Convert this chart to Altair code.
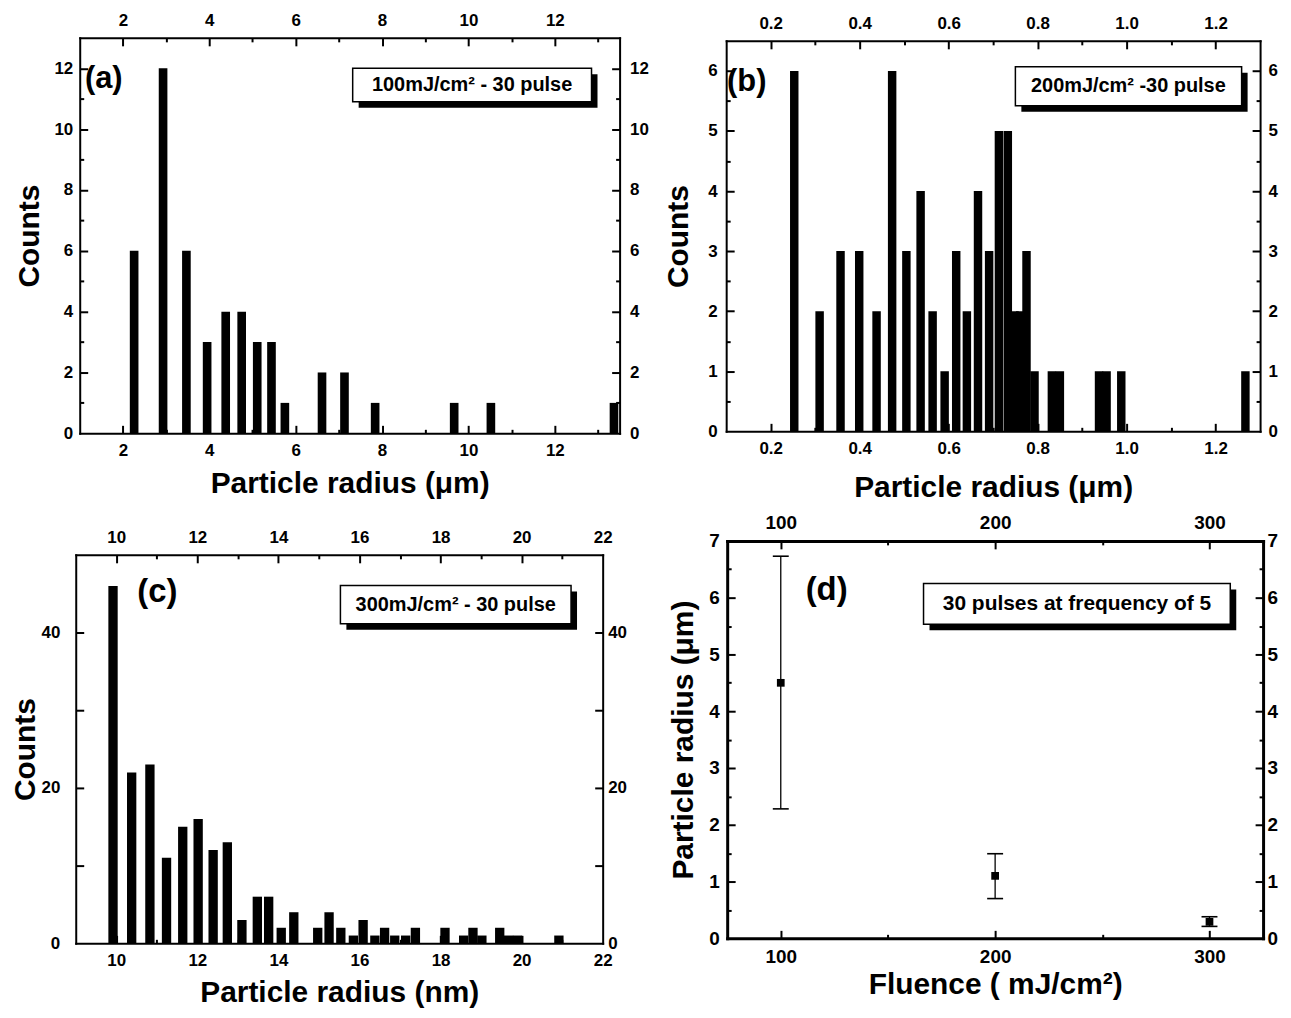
import altair as alt
import pandas as pd

FONT = "Liberation Sans"

# ---------------- data ----------------
# (a) 100 mJ/cm2 histogram (particle radius in um)
A_RADIUS = [2.26, 2.93, 3.47, 3.95, 4.38, 4.75, 5.11, 5.44, 5.75, 6.61, 7.13, 7.84, 9.67, 10.52, 13.37]
A_COUNTS = [6, 12, 6, 3, 4, 4, 3, 3, 1, 2, 2, 1, 1, 1, 1]

# (b) 200 mJ/cm2 histogram (particle radius in um)
B_RADIUS = [0.253, 0.310, 0.357, 0.399, 0.438, 0.473, 0.505, 0.537, 0.564, 0.591,
            0.617, 0.641, 0.666, 0.691, 0.713, 0.733, 0.748, 0.761, 0.775, 0.793,
            0.832, 0.850, 0.938, 0.955, 0.988, 1.267]
B_COUNTS = [6, 2, 3, 3, 2, 6, 3, 4, 2, 1, 3, 2, 4, 3, 5, 5, 2, 2, 3, 1, 1, 1, 1, 1, 1, 1]

# (c) 300 mJ/cm2 histogram (particle radius in nm)
C_RADIUS = [9.92, 10.38, 10.83, 11.24, 11.64, 12.02, 12.39, 12.74, 13.10, 13.48, 13.76,
            14.07, 14.38, 14.97, 15.25, 15.54, 15.85, 16.09, 16.38, 16.62, 16.87, 17.14,
            17.38, 18.11, 18.57, 18.80, 19.02, 19.46, 19.68, 19.90, 20.92]
C_COUNTS = [46, 22, 23, 11, 15, 16, 12, 13, 3, 6, 6, 2, 4, 2, 4, 2, 1, 3, 1, 2, 1, 1,
            2, 2, 1, 2, 1, 2, 1, 1, 1]

# (d) mean radius vs fluence
D_FLUENCE = [100, 200, 300]
D_RADIUS = [4.5, 1.1, 0.29]
D_LOW = [2.28, 0.70, 0.21]
D_HIGH = [6.73, 1.49, 0.38]

# annotation texts
A_NOTE = "100mJ/cm² - 30 pulse"
B_NOTE = "200mJ/cm² -30 pulse"
C_NOTE = "300mJ/cm² - 30 pulse"
D_NOTE = "30 pulses at frequency of 5"

# ---------------- layout (page pixels) ----------------
COLS = [(76, 622), (729, 1268)]
ROWS = [(38, 435), (543, 947)]
FRAMES = {"a": (80, 622, 38, 435), "b": (729, 1265, 41, 433),
          "c": (76, 605, 557, 947), "d": (730, 1268, 543, 942)}


def hist_df(xs, ns, w):
    return pd.DataFrame({"x0": [x - w / 2 for x in xs], "x1": [x + w / 2 for x in xs],
                         "n": ns, "z": [0] * len(xs)})


def note_df(box, text_xy, note, label_xy, label):
    return pd.DataFrame({"bx0": [box[0]], "bx1": [box[1]], "by0": [box[2]], "by1": [box[3]],
                         "tx": [text_xy[0]], "ty": [text_xy[1]], "t": [note],
                         "lx": [label_xy[0]], "ly": [label_xy[1]], "l": [label]})


def label_axis(orient, offset, values, fmt, pad, size, dw, title=None, tpos=None):
    kw = dict(orient=orient, offset=offset, values=values, format=fmt, ticks=False,
              domain=True, domainColor="black", domainWidth=dw, domainCap="square",
              labelPadding=pad, labelFontSize=size, labelFont=FONT, labelFontWeight="bold",
              labelColor="black", labelFlush=False, labelOverlap=False, grid=False)
    if title is not None:
        kw.update(title=title, titleFont=FONT, titleFontSize=30, titleFontWeight="bold",
                  titleColor="black", titleBaseline="middle")
        if orient in ("left", "right"):
            kw.update(titleX=tpos)
        else:
            kw.update(titleY=tpos)
    else:
        kw.update(title=None)
    return alt.Axis(**kw)


def tick_axis(orient, offset, values, length):
    if not values:
        return None
    return alt.Axis(orient=orient, offset=offset - length, values=values, ticks=True,
                    tickSize=length, tickWidth=2, tickColor="black", labels=False,
                    domain=False, grid=False, title=None)


def make_panel(name, col, row, layer_fns, xdom, ydom, xlab, ylab, xmaj, xmin, ymaj, ymin,
               xfmt, yfmt, xtitle, ytitle, st):
    L, R, T, B = FRAMES[name]
    CL, CR = COLS[col]
    VT, VB = ROWS[row]
    W, H = CR - CL, VB - VT
    xs = alt.Scale(domain=xdom, range=[L - CL, R - CL], nice=False, zero=False, clamp=True)
    ys = alt.Scale(domain=ydom, range=[B - VT, T - VT], nice=False, zero=False, clamp=True)
    o_l, o_r, o_t, o_b = -(L - CL), -(CR - R), -(T - VT), -(VB - B)
    ls, dw = st["ls"], st["dw"]
    axis_sets = [
        (label_axis("bottom", o_b, xlab, xfmt, st["pb"], ls, dw, xtitle, st["xt"]),
         label_axis("left", o_l, ylab, yfmt, st["pl"], ls, dw, ytitle, st["yt"])),
        (label_axis("top", o_t, xlab, xfmt, st["pt"], ls, dw),
         label_axis("right", o_r, ylab, yfmt, st["pr"], ls, dw)),
        (tick_axis("bottom", o_b, xmaj, 8), tick_axis("left", o_l, ymaj, 8)),
        (tick_axis("top", o_t, xmaj, 8), tick_axis("right", o_r, ymaj, 8)),
        (tick_axis("bottom", o_b, xmin, 4), tick_axis("left", o_l, ymin, 4)),
        (tick_axis("top", o_t, xmin, 4), tick_axis("right", o_r, ymin, 4)),
    ]
    layers = []
    for i, fn in enumerate(layer_fns):
        ax, ay = axis_sets[i] if i < len(axis_sets) else (None, None)
        layers.append(fn(xs, ys, ax, ay))
    return alt.layer(*layers).properties(width=W, height=H).resolve_axis(
        x="independent", y="independent")


def hist_layers(df, notes, note_size, label_size):
    def bars(xs, ys, ax, ay):
        return alt.Chart(df).mark_rect(color="black").encode(
            x=alt.X("x0:Q", scale=xs, axis=ax), x2="x1",
            y=alt.Y("n:Q", scale=ys, axis=ay), y2="z")
    return [bars] + note_layers(notes, note_size, label_size)


def note_layers(notes, note_size, label_size):
    def shadow(xs, ys, ax, ay):
        return alt.Chart(notes).mark_rect(color="black", xOffset=6, x2Offset=6,
                                          yOffset=6, y2Offset=6).encode(
            x=alt.X("bx0:Q", scale=xs, axis=ax), x2="bx1",
            y=alt.Y("by0:Q", scale=ys, axis=ay), y2="by1")

    def box(xs, ys, ax, ay):
        return alt.Chart(notes).mark_rect(fill="white", stroke="black", strokeWidth=1.5).encode(
            x=alt.X("bx0:Q", scale=xs, axis=ax), x2="bx1",
            y=alt.Y("by0:Q", scale=ys, axis=ay), y2="by1")

    def text(xs, ys, ax, ay):
        return alt.Chart(notes).mark_text(font=FONT, fontWeight="bold", fontSize=note_size,
                                          color="black", align="center", baseline="middle").encode(
            x=alt.X("tx:Q", scale=xs, axis=ax), y=alt.Y("ty:Q", scale=ys, axis=ay), text="t:N")

    def label(xs, ys, ax, ay):
        return alt.Chart(notes).mark_text(font=FONT, fontWeight="bold", fontSize=label_size,
                                          color="black", align="left", baseline="middle").encode(
            x=alt.X("lx:Q", scale=xs, axis=ax), y=alt.Y("ly:Q", scale=ys, axis=ay), text="l:N")

    def ghost(xs, ys, ax, ay):
        return alt.Chart(notes).mark_point(opacity=0).encode(
            x=alt.X("lx:Q", scale=xs, axis=ax), y=alt.Y("ly:Q", scale=ys, axis=ay))

    return [shadow, box, text, label, ghost]


def rng(start, stop, step, nd=2):
    out, v = [], start
    while v <= stop + 1e-9:
        out.append(round(v, nd))
        v += step
    return out


# ---------------- panel (a) ----------------
a_notes = note_df((7.32, 12.85, 10.9, 12.0), (10.085, 11.45), A_NOTE, (1.12, 11.65), "(a)")
pa = make_panel(
    "a", 0, 0, hist_layers(hist_df(A_RADIUS, A_COUNTS, 0.2), a_notes, 20, 31),
    [1, 13.5], [0, 13], rng(2, 12, 2), rng(0, 12, 2), rng(2, 12, 2), rng(3, 13, 2),
    rng(2, 12, 2), rng(1, 11, 2), "d", "d", "Particle radius (μm)", "Counts",
    dict(ls=17, dw=2, pb=9, pl=7, pt=8, pr=10, xt=50, yt=-50))

# ---------------- panel (b) ----------------
b_notes = note_df((0.750, 1.2585, 5.42, 6.07), (1.004, 5.745), B_NOTE, (0.102, 5.81), "(b)")
pb = make_panel(
    "b", 1, 0, hist_layers(hist_df(B_RADIUS, B_COUNTS, 0.019), b_notes, 20, 31),
    [0.1, 1.3], [0, 6.5], rng(0.2, 1.2, 0.2, 1), rng(0, 6, 1), rng(0.2, 1.2, 0.2, 1),
    rng(0.3, 1.1, 0.2, 1), rng(1, 6, 1), rng(0.5, 5.5, 1, 1), ".1f", "d",
    "Particle radius (μm)", "Counts",
    dict(ls=17, dw=2, pb=9, pl=9, pt=8, pr=8, xt=56, yt=-48))

# ---------------- panel (c) ----------------
c_notes = note_df((15.53, 21.22, 41.14, 46.04), (18.375, 43.59), C_NOTE, (10.52, 45.2), "(c)")
pc = make_panel(
    "c", 0, 1, hist_layers(hist_df(C_RADIUS, C_COUNTS, 0.23), c_notes, 20, 33),
    [9, 22], [0, 50], rng(10, 22, 2), [0, 20, 40], rng(10, 20, 2), rng(11, 21, 2),
    [10, 20, 30, 40], [], "d", "d", "Particle radius (nm)", "Counts",
    dict(ls=17, dw=2, pb=9, pl=16, pt=8, pr=5, xt=49, yt=-50))

# ---------------- panel (d) ----------------
d_df = pd.DataFrame({"f": D_FLUENCE, "r": D_RADIUS, "lo": D_LOW, "hi": D_HIGH})
d_notes = note_df((166.6, 309.7, 5.53, 6.25), (238.2, 5.89), D_NOTE, (111.6, 6.13), "(d)")


def d_rule(xs, ys, ax, ay):
    return alt.Chart(d_df).mark_rule(color="black", strokeWidth=1.3).encode(
        x=alt.X("f:Q", scale=xs, axis=ax), y=alt.Y("lo:Q", scale=ys, axis=ay), y2="hi")


def d_cap_lo(xs, ys, ax, ay):
    return alt.Chart(d_df).mark_tick(orient="horizontal", size=16, thickness=1.6, color="black",
                                     opacity=1).encode(
        x=alt.X("f:Q", scale=xs, axis=ax), y=alt.Y("lo:Q", scale=ys, axis=ay))


def d_cap_hi(xs, ys, ax, ay):
    return alt.Chart(d_df).mark_tick(orient="horizontal", size=16, thickness=1.6, color="black",
                                     opacity=1).encode(
        x=alt.X("f:Q", scale=xs, axis=ax), y=alt.Y("hi:Q", scale=ys, axis=ay))


def d_point(xs, ys, ax, ay):
    return alt.Chart(d_df).mark_square(size=60, color="black", opacity=1).encode(
        x=alt.X("f:Q", scale=xs, axis=ax), y=alt.Y("r:Q", scale=ys, axis=ay))


pd_ = make_panel(
    "d", 1, 1, [d_rule, d_cap_lo, d_cap_hi, d_point] + note_layers(d_notes, 21, 33)[:4],
    [75, 325], [0, 7], [100, 200, 300], rng(0, 7, 1), [100, 200, 300], [150, 250],
    rng(1, 6, 1), rng(0.5, 6.5, 1, 1), "d", "d", "Fluence ( mJ/cm²)", "Particle radius (μm)",
    dict(ls=19, dw=3, pb=9, pl=8, pt=8, pr=4, xt=46, yt=-44))

chart = alt.concat(
    pa, pb, pc, pd_, columns=2, spacing={"row": ROWS[1][0] - ROWS[0][1],
                                         "column": COLS[1][0] - COLS[0][1]},
    bounds="flush"
).properties(
    padding={"left": 3, "top": 2, "right": 5, "bottom": 5}
).configure_view(stroke=None)

chart.save("out.html", embed_options={"renderer": "svg", "actions": False})
